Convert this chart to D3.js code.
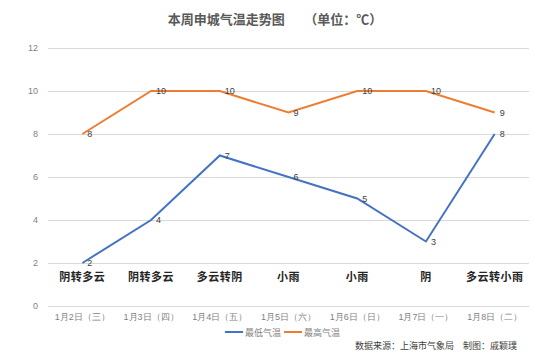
<!DOCTYPE html>
<html><head><meta charset="utf-8">
<script src="https://cdn.jsdelivr.net/npm/d3@7"></script>
<style>body{margin:0;background:#fff;}svg{display:block;font-family:"Noto Sans CJK SC","Microsoft YaHei",sans-serif;}</style>
</head><body>
<svg id="c" width="550" height="361"></svg>
<script>
const dates = ["1月2日（三）","1月3日（四）","1月4日（五）","1月5日（六）","1月6日（日）","1月7日（一）","1月8日（二）"];
const weather = ["阴转多云","阴转多云","多云转阴","小雨","小雨","阴","多云转小雨"];
const lowTemps = [2,4,7,6,5,3,8];
const highTemps = [8,10,10,9,10,10,9];
const yTicks = [0,2,4,6,8,10,12];
const seriesNames = ["最低气温","最高气温"];
const colors = ["#4472C4","#ED7D31"];

const svg = d3.select("#c");
const x = d3.scaleBand().domain(dates).range([48,529]);
const y = d3.scaleLinear().domain([0,12]).range([306,48]);

svg.append("text").attr("x",275).attr("y",24).attr("text-anchor","middle")
  .attr("font-size",13).attr("font-weight","bold").attr("fill","#595959")
  .text("本周申城气温走势图\u3000\u3000（单位：℃）");

const yAxis = svg.append("g").attr("transform","translate(48,0)")
  .call(d3.axisLeft(y).tickValues(yTicks).tickSize(-481).tickPadding(10));
yAxis.select(".domain").remove();
yAxis.selectAll("line").attr("stroke","#d9d9d9");
yAxis.selectAll("text").attr("fill","#7f7f7f").attr("font-size",9).attr("font-family","Liberation Sans, Arial, sans-serif");

const xAxis = svg.append("g").attr("transform","translate(0,306)")
  .call(d3.axisBottom(x).tickSize(0).tickPadding(8));
xAxis.select(".domain").remove();
xAxis.selectAll("text").attr("fill","#7f7f7f").attr("font-size",9);

svg.append("g").selectAll("text").data(weather).join("text")
  .attr("x",(d,i)=>x(dates[i])+x.bandwidth()/2).attr("y",281)
  .attr("text-anchor","middle").attr("font-size",11).attr("font-weight","bold").attr("fill","#262626")
  .attr("letter-spacing",0.5)
  .text(d=>d);

const cx = (d,i)=>x(dates[i])+x.bandwidth()/2;
const line = d3.line().x((d,i)=>cx(d,i)).y(d=>y(d));
[lowTemps, highTemps].forEach((s,k)=>{
  svg.append("path").datum(s).attr("d",line).attr("fill","none")
    .attr("stroke",colors[k]).attr("stroke-width",2);
  svg.append("g").selectAll("text").data(s).join("text")
    .attr("x",(d,i)=>cx(d,i)+5).attr("y",d=>y(d)+3)
    .attr("font-size",9).attr("fill","#404040").attr("font-family","Liberation Sans, Arial, sans-serif")
    .text(d=>d);
});

const leg = svg.append("g");
const legX = [225,284];
seriesNames.forEach((n,k)=>{
  leg.append("line").attr("x1",legX[k]).attr("x2",legX[k]+18).attr("y1",332).attr("y2",332)
    .attr("stroke",colors[k]).attr("stroke-width",2);
  leg.append("text").attr("x",legX[k]+20).attr("y",335.5).attr("font-size",9).attr("fill","#7f7f7f").text(n);
});

svg.append("text").attr("x",517).attr("y",349).attr("text-anchor","end")
  .attr("font-size",9).attr("fill","#404040").text("数据来源：上海市气象局\u3000制图：戚颖璞");
</script>
</body></html>
